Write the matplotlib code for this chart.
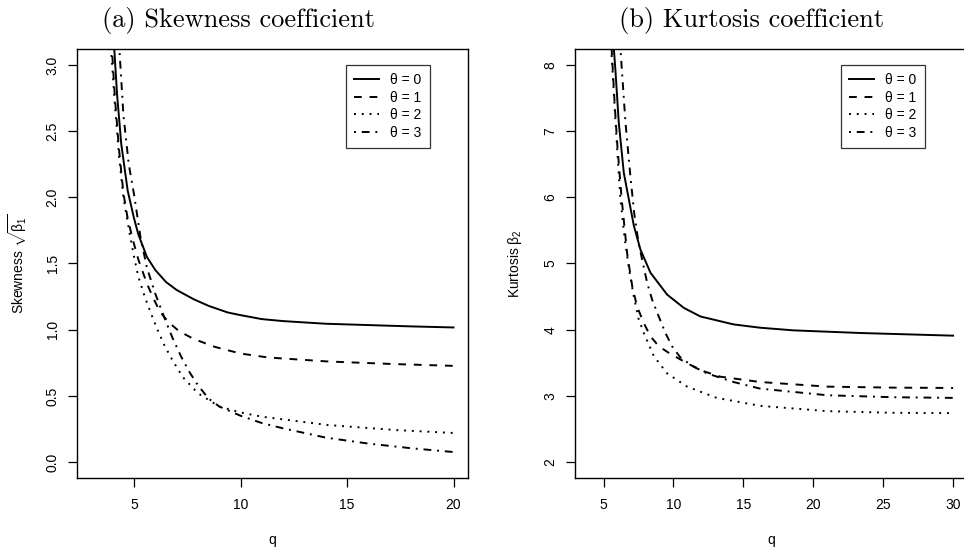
import matplotlib
matplotlib.use('Agg')
import matplotlib.pyplot as plt

plt.rcParams['font.family'] = ['Liberation Sans', 'DejaVu Sans']
plt.rcParams['mathtext.fontset'] = 'custom'
plt.rcParams['mathtext.rm'] = 'Liberation Sans'
plt.rcParams['mathtext.it'] = 'Liberation Sans'

labels = ['θ = 0', 'θ = 1', 'θ = 2', 'θ = 3']

# (a) skewness
skew_q0 = [3.95, 4.07, 4.2, 4.4, 4.7, 5.0, 5.2, 5.6, 6.0, 6.5, 7.0, 7.8, 8.5, 9.4, 10, 11, 12, 14, 16, 18, 20]
skew_v0 = [3.25, 3.12, 2.78, 2.40, 2.05, 1.84, 1.72, 1.55, 1.45, 1.36, 1.30, 1.23, 1.18, 1.13, 1.11, 1.08, 1.065, 1.045, 1.035, 1.025, 1.017]
skew_q1 = [3.9, 3.96, 4.1, 4.3, 4.5, 4.7, 4.94, 5.2, 5.4, 5.6, 5.9, 6.2, 6.6, 7.1, 7.8, 8.8, 10, 11.3, 14.1, 17.3, 20]
skew_v1 = [3.3, 3.12, 2.75, 2.35, 2.03, 1.84, 1.68, 1.53, 1.44, 1.35, 1.24, 1.14, 1.06, 0.99, 0.93, 0.87, 0.82, 0.79, 0.76, 0.74, 0.727]
skew_q2 = [3.85, 3.95, 4.1, 4.3, 4.5, 4.8, 5.0, 5.2, 5.5, 5.8, 6.1, 6.4, 6.8, 7.3, 8.0, 9.0, 10, 11, 14.1, 17.3, 20]
skew_v2 = [3.25, 3.05, 2.70, 2.30, 2.00, 1.72, 1.55, 1.40, 1.25, 1.12, 1.00, 0.89, 0.77, 0.64, 0.52, 0.42, 0.375, 0.343, 0.28, 0.242, 0.22]
skew_q3 = [4.25, 4.31, 4.5, 4.75, 5.0, 5.3, 5.6, 6.0, 6.4, 6.8, 7.2, 7.6, 8.0, 8.5, 9.0, 10, 11, 12, 14, 16, 18, 20]
skew_v3 = [3.25, 3.12, 2.62, 2.25, 2.02, 1.70, 1.47, 1.27, 1.10, 0.94, 0.80, 0.68, 0.58, 0.48, 0.42, 0.35, 0.295, 0.255, 0.185, 0.14, 0.105, 0.076]

# (b) kurtosis
kurt_q0 = [5.65, 5.74, 5.86, 6.09, 6.45, 6.81, 7.17, 7.64, 8.36, 9.55, 10.74, 11.93, 14.3, 16.2, 18.6, 23.4, 30]
kurt_v0 = [8.5, 8.24, 7.89, 7.13, 6.37, 5.97, 5.57, 5.21, 4.86, 4.53, 4.33, 4.20, 4.08, 4.03, 3.99, 3.95, 3.91]
kurt_q1 = [5.5, 5.58, 5.8, 6.0, 6.3, 6.69, 7.05, 7.4, 7.88, 8.36, 8.95, 9.67, 10.5, 11.2, 12.2, 13.36, 16.2, 21.0, 25.7, 30]
kurt_v1 = [8.5, 8.24, 7.40, 6.75, 5.97, 5.15, 4.66, 4.35, 4.10, 3.90, 3.75, 3.65, 3.55, 3.47, 3.37, 3.29, 3.21, 3.14, 3.125, 3.12]
kurt_q2 = [5.48, 5.55, 5.8, 6.0, 6.21, 6.5, 6.8, 7.0, 7.17, 7.5, 7.88, 8.6, 9.55, 10.98, 13.1, 16.2, 21.0, 25.7, 30]
kurt_v2 = [8.5, 8.24, 7.35, 6.65, 5.97, 5.40, 4.95, 4.70, 4.50, 4.17, 3.95, 3.60, 3.34, 3.14, 2.97, 2.85, 2.77, 2.745, 2.74]
kurt_q3 = [6.15, 6.21, 6.57, 6.93, 7.2, 7.5, 7.76, 8.12, 8.48, 8.95, 9.43, 9.9, 10.5, 11.45, 12.4, 14.3, 16.2, 21.0, 25.7, 30]
kurt_v3 = [8.5, 8.24, 7.13, 6.30, 5.75, 5.32, 5.06, 4.71, 4.45, 4.20, 3.95, 3.75, 3.58, 3.44, 3.34, 3.21, 3.11, 3.01, 2.98, 2.97]

styles = [dict(linestyle='-'),
          dict(linestyle=(0, (4, 4))),
          dict(linestyle=(0, (1, 3))),
          dict(linestyle=(0, (1, 3, 4, 3)))]

fig = plt.figure(figsize=(9.64, 5.54), dpi=100)
ax1 = fig.add_axes([77/964, 76/554, 391/964, 429/554])
ax2 = fig.add_axes([575/964, 76/554, 392.6/964, 429/554])

for q, v, st, lab in zip([skew_q0, skew_q1, skew_q2, skew_q3],
                         [skew_v0, skew_v1, skew_v2, skew_v3], styles, labels):
    ax1.plot(q, v, color='black', lw=1.4, label=lab, **st)
for q, v, st, lab in zip([kurt_q0, kurt_q1, kurt_q2, kurt_q3],
                         [kurt_v0, kurt_v1, kurt_v2, kurt_v3], styles, labels):
    ax2.plot(q, v, color='black', lw=1.4, label=lab, **st)

ax1.set_xlim(2.32, 20.68)
ax1.set_ylim(-0.12, 3.12)
ax1.set_xticks([5, 10, 15, 20])
ax1.set_yticks([0.0, 0.5, 1.0, 1.5, 2.0, 2.5, 3.0])
ax1.set_yticklabels(['0.0', '0.5', '1.0', '1.5', '2.0', '2.5', '3.0'])
ax2.set_xlim(2.96, 31.04)
ax2.set_ylim(1.76, 8.24)
ax2.set_xticks([5, 10, 15, 20, 25, 30])
ax2.set_yticks([2, 3, 4, 5, 6, 7, 8])

for ax, anchor in ((ax1, (0.903, 0.963)), (ax2, (0.891, 0.963))):
    ax.tick_params(direction='out', length=6.5, width=0.9, labelsize=10, pad=8)
    ax.tick_params(axis='y', pad=6)
    for lbl in ax.get_yticklabels():
        lbl.set_rotation(90)
        lbl.set_va('center')
    for sp in ax.spines.values():
        sp.set_linewidth(1.0)
    ax.set_xlabel('q', fontsize=10, labelpad=15)
    leg = ax.legend(loc='upper right', frameon=True, fancybox=False, fontsize=10,
                    handlelength=1.8, handletextpad=0.8, borderpad=0.6,
                    labelspacing=0.25, borderaxespad=0, bbox_to_anchor=anchor)
    leg.get_frame().set_edgecolor('black')
    leg.get_frame().set_linewidth(0.9)

ax1.set_ylabel(r'Skewness $\sqrt{\beta_1}$', fontsize=10, labelpad=12)
ax2.set_ylabel(r'Kurtosis $\beta_2$', fontsize=10, labelpad=14)

fig.text(239/964, 1 - 20/554, '(a) Skewness coefficient', family='cmr10',
         fontsize=19, ha='center', va='center')
fig.text(752/964, 1 - 20/554, '(b) Kurtosis coefficient', family='cmr10',
         fontsize=19, ha='center', va='center')

fig.savefig('out.png', dpi=100)
